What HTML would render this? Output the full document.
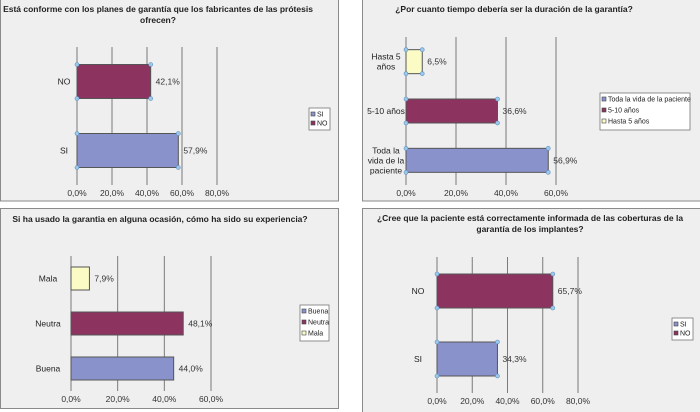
<!DOCTYPE html>
<html><head><meta charset="utf-8"><style>
html,body{margin:0;padding:0;background:#fff;width:700px;height:412px;overflow:hidden}
svg{display:block;font-family:"Liberation Sans",sans-serif}
</style></head><body>
<svg id="s" width="700" height="412" xmlns="http://www.w3.org/2000/svg"></svg>
<script>
// Chart 1
const c1Categories = ["SI","NO"];
const c1Values = [57.9, 42.1];
const c1Ticks = [0,20,40,60,80];
// Chart 2
const c2Categories = ["Toda la vida de la paciente","5-10 años","Hasta 5 años"];
const c2Values = [56.9, 36.6, 6.5];
const c2Ticks = [0,20,40,60];
// Chart 3
const c3Categories = ["Buena","Neutra","Mala"];
const c3Values = [44.0, 48.1, 7.9];
const c3Ticks = [0,20,40,60];
// Chart 4
const c4Categories = ["SI","NO"];
const c4Values = [34.3, 65.7];
const c4Ticks = [0,20,40,60,80];

const NS="http://www.w3.org/2000/svg";
const svg=document.getElementById('s');
const COLORS=["#8a92cb","#8c3360","#fbfbc6"];
function el(tag,attrs,parent){const e=document.createElementNS(NS,tag);for(const k in attrs)e.setAttribute(k,attrs[k]);(parent||svg).appendChild(e);return e;}
function fmt(v){return v.toFixed(1).replace('.',',')+'%';}

function chart(cfg,cats,vals,ticks){
  const g=el('g',{});
  
  
  const p=el('rect',{x:cfg.px,y:cfg.py,width:cfg.pw,height:cfg.ph,fill:'#efefef',stroke:'#8a8a8a','stroke-width':1},g);
  
  
  cfg.title.forEach((t,i)=>{
    const tt=el('text',{x:cfg.tx,y:cfg.ty+i*11,'text-anchor':'middle','font-size':8.5,'font-weight':'bold',fill:'#222'},g);
    tt.textContent=t;
    
    
  });
  const maxT=ticks[ticks.length-1];
  const xs=v=>cfg.x0+(v/maxT)*(cfg.x1-cfg.x0);
  ticks.forEach(t=>{
    const l=el('line',{x1:xs(t),x2:xs(t),y1:cfg.gy0,y2:cfg.gy1,stroke:'#7a7a7a','stroke-width':1},g);
    
    
    const tl=el('text',{x:xs(t),y:cfg.gy1+11,'text-anchor':'middle','font-size':8.5,fill:'#333'},g);
    tl.textContent=fmt(t);
    
    
  });
  const n=cats.length;
  const band=(cfg.gy1-cfg.gy0)/n;
  for(let i=0;i<n;i++){
    const yc=cfg.gy1-band*(i+0.5);
    const y=yc-cfg.bh/2;
    const b=el('rect',{x:xs(0),y:y,width:xs(vals[i])-xs(0),height:cfg.bh,fill:COLORS[i],stroke:'#555','stroke-width':1},g);
    
    
    if(cfg.handles){
      [[xs(0),y],[xs(vals[i]),y],[xs(0),y+cfg.bh],[xs(vals[i]),y+cfg.bh]].forEach(([cx,cy])=>{
        const c=el('circle',{cx:cx,cy:cy,r:2,fill:'#9cc8ea',stroke:'#5d8fbf','stroke-width':0.6},g);
        
        
      });
    }
    const vl=el('text',{x:xs(vals[i])+5,y:yc+3,'font-size':8.5,fill:'#333'},g);
    vl.textContent=fmt(vals[i]);
    
    
    const lines=cfg.catLines[i];
    lines.forEach((t,j)=>{
      const cl=el('text',{x:cfg.x0-10,y:yc+3+(j-(lines.length-1)/2)*10,'text-anchor':'middle','font-size':8.5,fill:'#222'},g);
      cl.setAttribute('x',cfg.catX);
      cl.textContent=t;
      
      
    });
  }
  const lg=el('g',{},g);
  
  
  el('rect',{x:cfg.lx,y:cfg.ly,width:cfg.lw,height:cfg.lh,fill:'#fff',stroke:'#777','stroke-width':0.8},lg);
  cats.forEach((c,i)=>{
    const yy=cfg.ly+4+i*cfg.lstep;
    el('rect',{x:cfg.lx+2,y:yy,width:4,height:4,fill:COLORS[i],stroke:'#444','stroke-width':0.6},lg);
    const t=el('text',{x:cfg.lx+8,y:yy+4.5,'font-size':7,fill:'#222'},lg);
    t.textContent=c;
    
    
  });
}

chart({name:'chart-conformidad',px:0.5,py:-1,pw:338,ph:202,tx:158,ty:12,title:["Está conforme con los planes de garantía que los fabricantes de las prótesis","ofrecen?"],
  x0:77,x1:217,gy0:47,gy1:185,bh:34,handles:true,catX:64,catLines:[["SI"],["NO"]],lx:309,ly:108,lw:21,lh:22,lstep:9},c1Categories,c1Values,c1Ticks);
chart({name:'chart-duracion',px:362.5,py:-1,pw:340,ph:202,tx:514,ty:12,title:["¿Por cuanto tiempo debería ser la duración de la garantía?"],
  x0:406,x1:556,gy0:37,gy1:185,bh:24,handles:true,catX:386,catLines:[["Toda la","vida de la","paciente"],["5-10 años"],["Hasta 5","años"]],lx:600,ly:93,lw:90,lh:37,lstep:11},c2Categories,c2Values,c2Ticks);
chart({name:'chart-experiencia',px:0.5,py:208.5,pw:338,ph:200,tx:160,ty:222,title:["Si ha usado la garantia en alguna ocasión, cómo ha sido su experiencia?"],
  x0:71,x1:211,gy0:256,gy1:391,bh:23,handles:false,catX:48,catLines:[["Buena"],["Neutra"],["Mala"]],lx:300,ly:305,lw:29,lh:36,lstep:11},c3Categories,c3Values,c3Ticks);
chart({name:'chart-informada',px:362.5,py:208.5,pw:340,ph:205,tx:530,ty:221,title:["¿Cree que la paciente está correctamente informada de las coberturas de la","garantía de los implantes?"],
  x0:437,x1:578,gy0:257,gy1:393,bh:34,handles:true,catX:418,catLines:[["SI"],["NO"]],lx:672,ly:318,lw:21,lh:22,lstep:9},c4Categories,c4Values,c4Ticks);
</script>
</body></html>
